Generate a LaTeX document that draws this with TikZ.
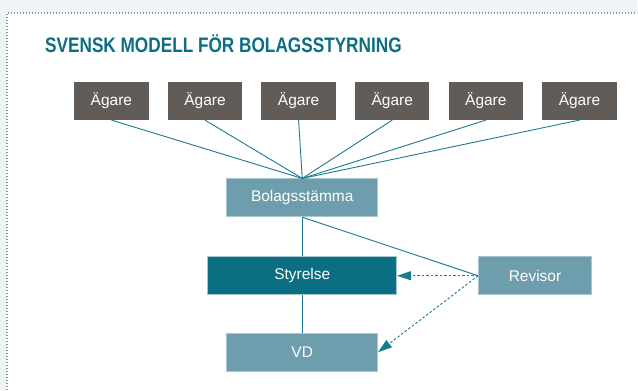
\documentclass[tikz,border=0pt]{standalone}
\usepackage{fontspec}
\setmainfont{Liberation Sans}
\newfontfamily\rubrikfont{Liberation Sans}[FakeStretch=0.82]
\usepackage{xcolor}
\usepackage{tikz}
\usetikzlibrary{arrows.meta}

\definecolor{bggray}{HTML}{EEF3F6}
\definecolor{dotgray}{HTML}{8C9398}
\definecolor{agarebrun}{HTML}{625C59}
\definecolor{ljusbla}{HTML}{6E9DAD}
\definecolor{kantbla}{HTML}{A8C6D0}
\definecolor{morkbla}{HTML}{0C6E82}
\definecolor{linjebla}{HTML}{1A7A8E}

\tikzset{
  ruta/.style={inner sep=0pt, text=white, font=\fontsize{15.5}{15.5}\selectfont, minimum height=38pt},
  agare/.style={ruta, fill=agarebrun, minimum width=74.5pt},
  ljus/.style={ruta, fill=ljusbla, draw=kantbla, line width=0.8pt},
  mork/.style={ruta, fill=morkbla, draw=kantbla, line width=0.8pt},
  linje/.style={linjebla, line width=0.9pt},
  streck/.style={linjebla, line width=0.9pt, dash pattern=on 2.5pt off 2pt, -{Triangle[length=14pt,width=9pt]}}
}

\begin{document}
\begin{tikzpicture}[x=1pt,y=-1pt]
  % Bakgrund och ram
  \fill[bggray] (0,0) rectangle (638,390);
  \fill[white] (7,13) rectangle (638,390);
  \draw[dotgray, line width=1.2pt, dash pattern=on 1pt off 2pt] (7,390) -- (7,13) -- (638,13);

  % Rubrik
  \node[anchor=base west, inner sep=0pt, text=morkbla] (rubrik) at (45,53)
    {\rubrikfont\bfseries\fontsize{21}{21}\selectfont SVENSK MODELL FÖR BOLAGSSTYRNING};

  % Ägare
  \foreach \i in {1,...,6} {
    \node[agare] (agare\i) at ({111.5+(\i-1)*93.7},101) {Ägare};
  }

  % Organ
  \node[ljus, minimum width=151pt] (stamma) at (302.5,198) {Bolagsstämma};
  \node[mork, minimum width=189pt] (styrelse) at (302.5,276) {Styrelse};
  \node[ljus, minimum width=113pt] (revisor) at (535.5,276) {Revisor};
  \node[ljus, minimum width=151pt] (vd) at (302.5,352.5) {VD};

  % Linjer
  \foreach \i in {1,...,6} {
    \draw[linje] (agare\i.south) -- (stamma.north);
  }
  \draw[linje] (stamma.south) -- (styrelse.north);
  \draw[linje] (styrelse.south) -- (vd.north);
  \draw[linje] (stamma.south) -- (revisor.west);

  % Revisorns granskning
  \draw[streck] (revisor.west) -- (styrelse.east);
  \draw[streck] (revisor.west) -- (vd.east);
\end{tikzpicture}
\end{document}
